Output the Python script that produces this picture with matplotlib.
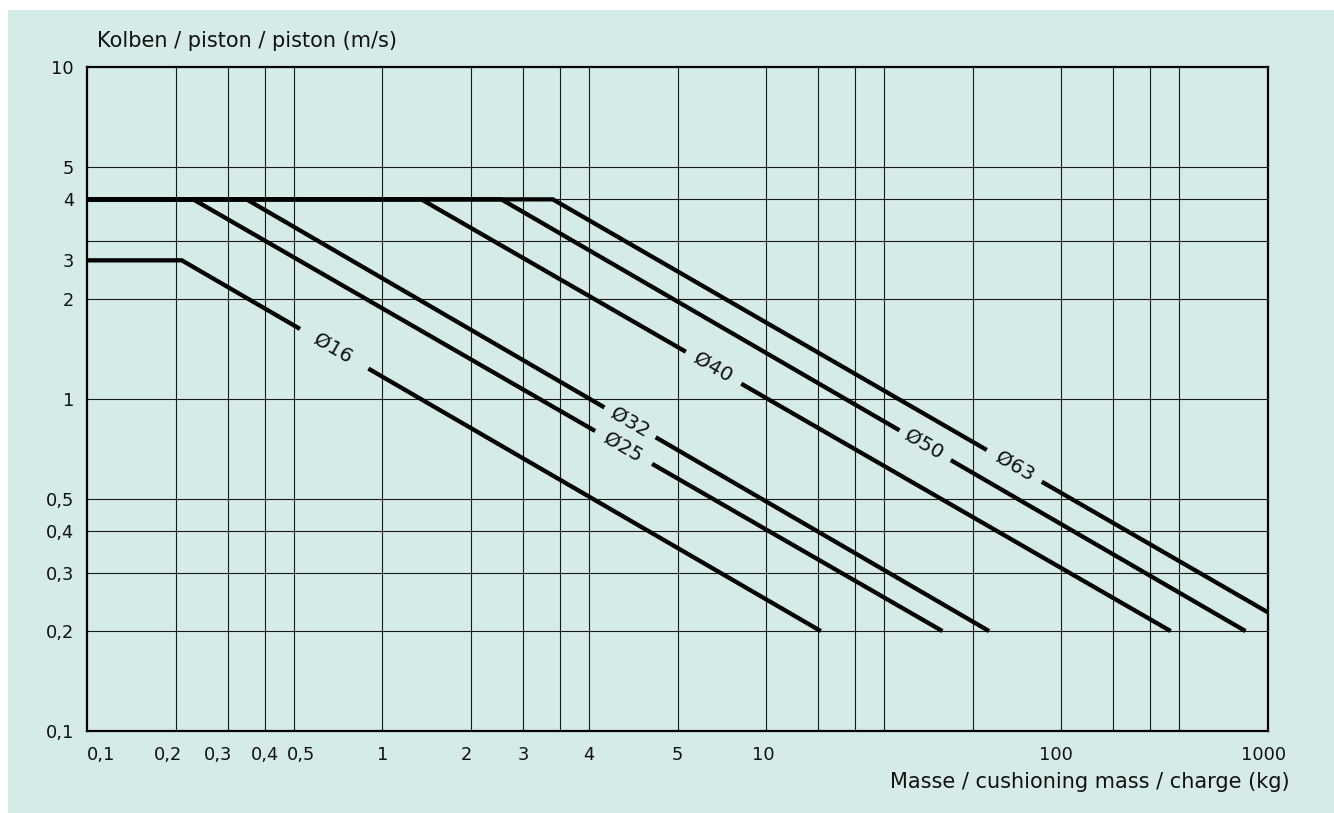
import numpy as np
import matplotlib
matplotlib.use('Agg')
import matplotlib.pyplot as plt
from matplotlib.ticker import FixedLocator, NullFormatter
from matplotlib.patches import Rectangle

# ---------------- data ----------------
bores = ['Ø16', 'Ø25', 'Ø32', 'Ø40', 'Ø50', 'Ø63']
v_max = [2.62, 4.0, 4.0, 4.0, 4.0, 4.0]          # flat (max) piston speed, m/s
m_knee = [0.209, 0.2285, 0.3465, 1.355, 2.53, 3.78]  # mass where speed starts to drop, kg
m_end = [30.6, 79.0, 113.7, 469.0, 841.0, 1000.0]    # mass at end of curve, kg
v_end = [0.2, 0.2, 0.2, 0.2, 0.2, 0.228]             # speed at end of curve, m/s
m_start = 0.1

x_grid = [0.2, 0.3, 0.4, 0.5, 1, 2, 3, 4, 5, 10, 20, 30, 40, 50,
          100, 200, 300, 400, 500]
y_grid = [0.2, 0.3, 0.4, 0.5, 1, 2, 3, 4, 5]
x_tick_pos = [0.1, 0.1875, 0.278, 0.4, 0.53, 1, 1.92, 3, 5, 10, 19.5, 192, 970]
x_tick_labels = ['0,1', '0,2', '0,3', '0,4', '0,5', '1', '2', '3', '4', '5',
                 '10', '100', '1000']
y_tick_pos = [0.1, 0.2, 0.3, 0.4, 0.5, 1, 2, v_max[0], 4, 5, 10]
y_tick_labels = ['0,1', '0,2', '0,3', '0,4', '0,5', '1', '2', '3', '4', '5', '10']

# label placement along each sloped segment (fraction) and gap around it
label_t = [0.237, 0.574, 0.516, 0.389, 0.568, 0.646]
gap_t = [(0.185, 0.292), (0.5365, 0.6125), (0.482, 0.551),
         (0.353, 0.427), (0.535, 0.604), (0.607, 0.684)]

# ---------------- style ----------------
BG = '#d5ebe8'
plt.rcParams['font.family'] = ['DejaVu Sans']

fig = plt.figure(figsize=(13.34, 8.13), dpi=100, facecolor='white')
fig.add_artist(Rectangle((8 / 1334, 0), 1 - 8 / 1334, (813 - 10) / 813,
                         transform=fig.transFigure, facecolor=BG,
                         edgecolor='none', zorder=-10))

L, R = 87.3 / 1334, 1267.7 / 1334
B, T = (813 - 731) / 813, (813 - 67.3) / 813
ax = fig.add_axes([L, B, R - L, T - B])
ax.set_facecolor(BG)
ax.set_xscale('log')
ax.set_yscale('log')
ax.set_xlim(0.1, 1000)
ax.set_ylim(0.1, 10)

ax.xaxis.remove_overlapping_locs = False
ax.yaxis.remove_overlapping_locs = False
ax.xaxis.set_minor_locator(FixedLocator(x_grid))
ax.yaxis.set_minor_locator(FixedLocator(y_grid))
ax.xaxis.set_minor_formatter(NullFormatter())
ax.yaxis.set_minor_formatter(NullFormatter())
ax.set_xticks(x_tick_pos, x_tick_labels)
ax.set_yticks(y_tick_pos, y_tick_labels)
ax.tick_params(which='both', length=0)
ax.tick_params(axis='x', which='major', pad=10.8, labelsize=12.8, colors='#111111')
ax.tick_params(axis='y', which='major', pad=9.6, labelsize=12.8, colors='#111111')
ax.grid(False, which='major')
ax.grid(True, which='minor', color='#1a1a1a', linewidth=0.8)
ax.set_axisbelow(True)
ax.get_xticklabels()[0].set_horizontalalignment('left')

for sp in ax.spines.values():
    sp.set_linewidth(1.6)
    sp.set_color('black')


def along(i, t):
    lx = np.log10(m_knee[i]) + t * (np.log10(m_end[i]) - np.log10(m_knee[i]))
    ly = np.log10(v_max[i]) + t * (np.log10(v_end[i]) - np.log10(v_max[i]))
    return 10 ** lx, 10 ** ly


for i, name in enumerate(bores):
    g0 = along(i, gap_t[i][0])
    g1 = along(i, gap_t[i][1])
    ax.plot([m_start, m_knee[i], g0[0]], [v_max[i], v_max[i], g0[1]],
            color='black', lw=3.1, solid_capstyle='butt', solid_joinstyle='miter',
            zorder=3)
    ax.plot([g1[0], m_end[i]], [g1[1], v_end[i]],
            color='black', lw=3.1, solid_capstyle='butt', zorder=3)
    p0 = ax.transData.transform((m_knee[i], v_max[i]))
    p1 = ax.transData.transform((m_end[i], v_end[i]))
    ang = np.degrees(np.arctan2(p1[1] - p0[1], p1[0] - p0[0]))
    lx, ly = along(i, label_t[i])
    ax.text(lx, ly, name, rotation=ang, rotation_mode='anchor',
            ha='center', va='center', fontsize=14.5, color='#111111', zorder=4)

fig.text(96.7 / 1334, (813 - 47.3) / 813, 'Kolben / piston / piston (m/s)',
         ha='left', va='baseline', fontsize=15, color='#111111')
fig.text(1290 / 1334, (813 - 788.3) / 813, 'Masse / cushioning mass / charge (kg)',
         ha='right', va='baseline', fontsize=15, color='#111111')

fig.savefig('out.png', dpi=100, facecolor=fig.get_facecolor())
